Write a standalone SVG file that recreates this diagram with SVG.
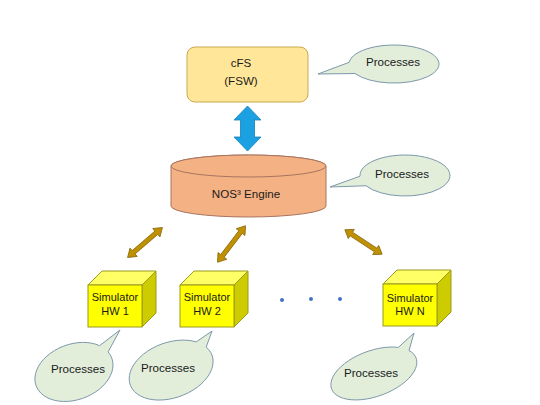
<svg xmlns="http://www.w3.org/2000/svg" xmlns:xlink="http://www.w3.org/1999/xlink" width="540" height="405" viewBox="0 0 540 405">
<style>
text{font-family:"Liberation Sans",Arial,sans-serif;font-size:11.6px;fill:#1A1A1A;text-anchor:middle}
text.sim{font-size:11px}
.callout{fill:#E2EEDA;stroke:#7C98AA;stroke-width:1}
.front{fill:#FFFF00;stroke:#9A9A1E;stroke-width:1}
.top{fill:#FFFF66;stroke:#9A9A1E;stroke-width:1}
.side{fill:#CCCC00;stroke:#9A9A1E;stroke-width:1}
.brown{fill:#BF9000;stroke:#8A6A10;stroke-width:0.8}
</style>
<defs>
<path id="dblarrow" d="M-23,0 L-15,-5.5 L-15,-2.2 L15,-2.2 L15,-5.5 L23,0 L15,5.5 L15,2.2 L-15,2.2 L-15,5.5 Z"/>
</defs>
<rect width="540" height="405" fill="#FFFFFF"/>

<g id="connectors">
<polygon points="247.5,106 261,120 254.5,120 254.5,137 261,137 247.5,151 234,137 240.5,137 240.5,120 234,120" fill="#1BA1E2" stroke="#1680B8" stroke-width="0.8"/>
<use xlink:href="#dblarrow" class="brown" transform="translate(145,242.5) rotate(-40.7)"/>
<use xlink:href="#dblarrow" class="brown" transform="translate(231.5,244) rotate(-52.6)"/>
<use xlink:href="#dblarrow" class="brown" transform="translate(363.5,242) rotate(33.3) scale(0.97,1)"/>
</g>

<g id="cfs">
<rect x="187" y="47" width="121" height="55" rx="8" ry="8" fill="#FFE699" stroke="#C9A950" stroke-width="1"/>
<text x="241" y="67">cFS</text>
<text x="241" y="85">(FSW)</text>
</g>

<g id="callout-cfs">
<path class="callout" d="M349.2,62.3 A45,19 0 1 1 355,73.5 L318,74 Z"/>
<text x="393" y="66">Processes</text>
</g>

<g id="engine">
<path d="M171,166 V206 A77.5,11 0 0 0 326,206 V166 A77.5,11 0 0 0 171,166 Z" fill="#F4B183" stroke="#A87560" stroke-width="1"/>
<ellipse cx="248.5" cy="166" rx="77.5" ry="11" fill="#F4B183" stroke="#A87560" stroke-width="1"/>
<text x="246" y="198">NOS³ Engine</text>
</g>

<g id="callout-engine">
<path class="callout" d="M360,176.2 A45,20.5 0 1 1 366,185.75 L330,187 Z"/>
<text x="402" y="178">Processes</text>
</g>

<g id="sim-hw1">
<polygon class="top" points="88,285 102,271 156,271 142,285"/>
<polygon class="side" points="142,285 156,271 156,313 142,327"/>
<rect class="front" x="88" y="285" width="54" height="42"/>
<text class="sim" x="115" y="301">Simulator</text>
<text class="sim" x="115" y="315">HW 1</text>
</g>

<g id="sim-hw2">
<polygon class="top" points="180,285 194,271 248,271 234,285"/>
<polygon class="side" points="234,285 248,271 248,313 234,327"/>
<rect class="front" x="180" y="285" width="54" height="42"/>
<text class="sim" x="207" y="301">Simulator</text>
<text class="sim" x="207" y="315">HW 2</text>
</g>

<g id="dots" fill="#4472C4">
<circle cx="282" cy="300" r="2"/>
<circle cx="311" cy="299" r="2"/>
<circle cx="340" cy="299" r="2"/>
</g>

<g id="sim-hwn">
<polygon class="top" points="383,284 397,270 451,270 437,284"/>
<polygon class="side" points="437,284 451,270 451,312 437,326"/>
<rect class="front" x="383" y="284" width="54" height="42"/>
<text class="sim" x="410" y="302">Simulator</text>
<text class="sim" x="410" y="315">HW N</text>
</g>

<g id="callout-hw1">
<path class="callout" d="M99.6,345.7 A40.3,27.8 -20 1 0 108.1,351.9 L120,330 Z"/>
<text x="78" y="373">Processes</text>
</g>

<g id="callout-hw2">
<path class="callout" d="M196.2,341.9 A43.5,27.7 -20 1 0 206.2,347.1 L212,331 Z"/>
<text x="168" y="372">Processes</text>
</g>

<g id="callout-hwn">
<path class="callout" d="M398.4,347.4 A45,22.9 -20 1 0 409,350.5 L414,333 Z"/>
<text x="371" y="377">Processes</text>
</g>
</svg>
